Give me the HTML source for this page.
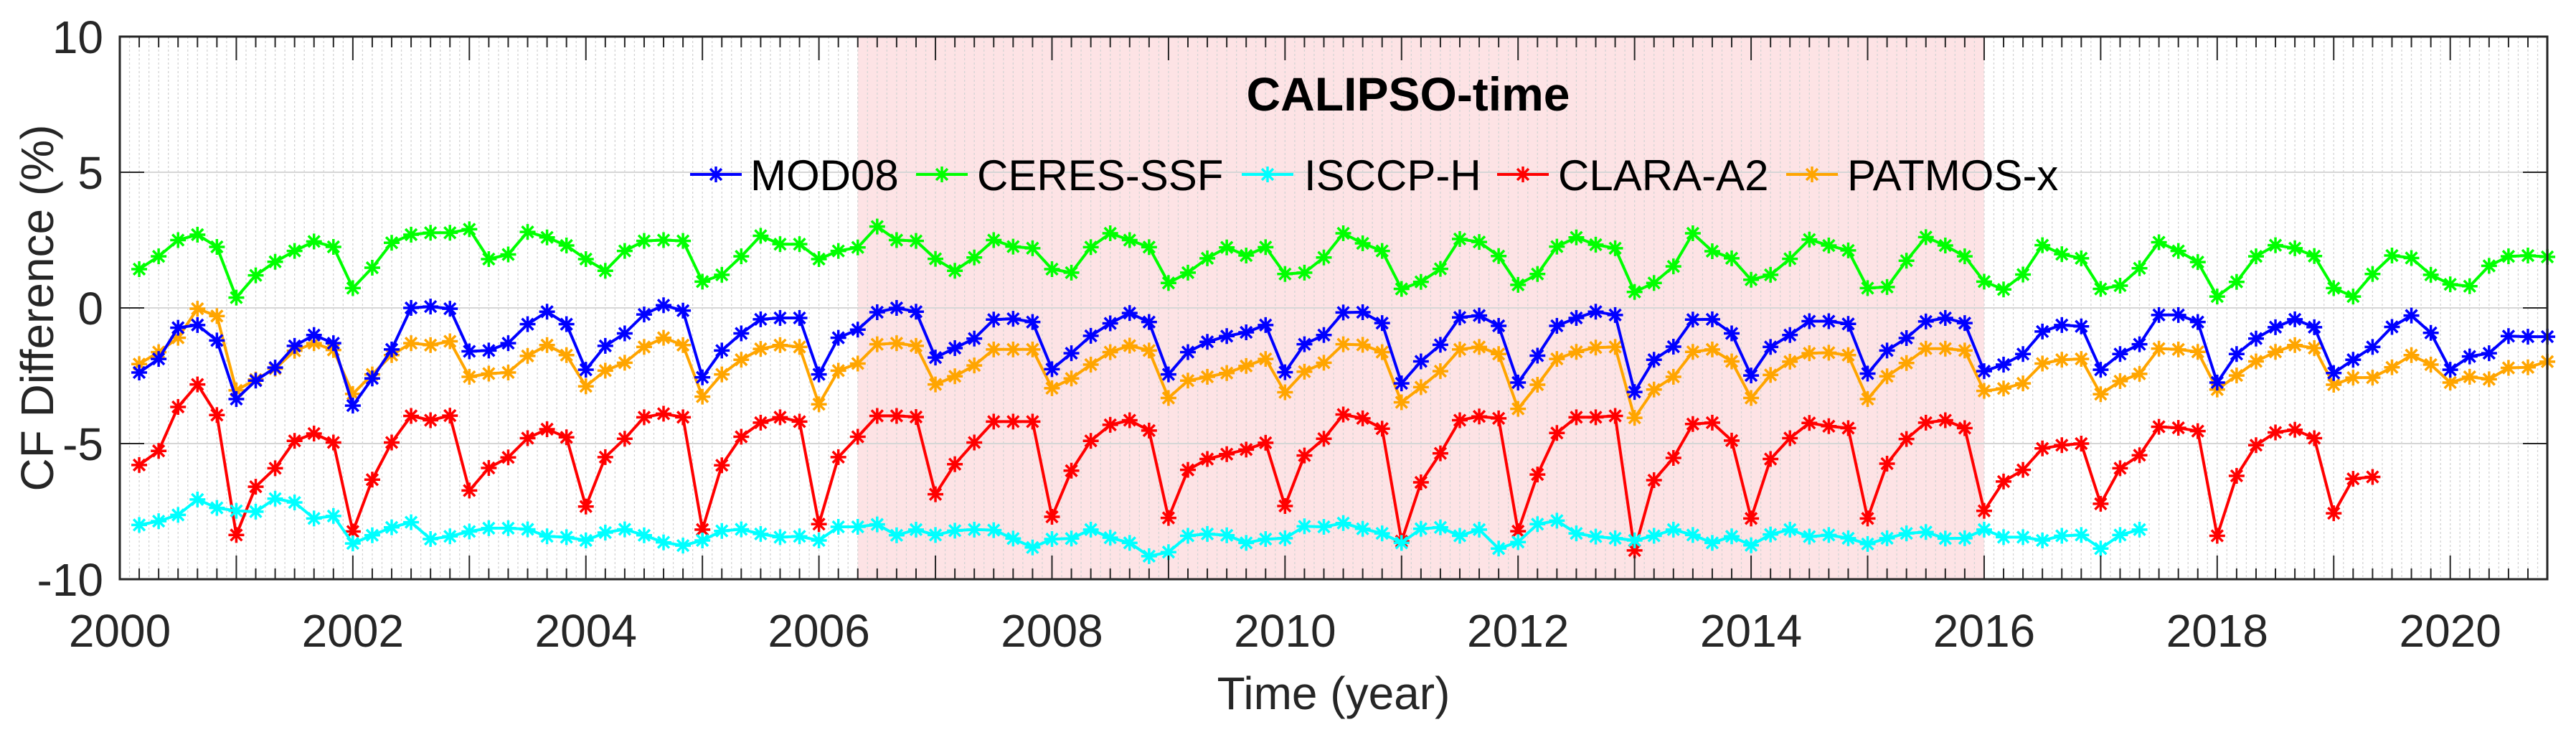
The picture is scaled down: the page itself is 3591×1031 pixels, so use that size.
<!DOCTYPE html>
<html><head><meta charset="utf-8"><style>
html,body{margin:0;padding:0;background:#fff;}
svg{display:block;font-family:"Liberation Sans",Arial,sans-serif;}
</style></head><body>
<svg id="chart" width="3591" height="1031" viewBox="0 0 3591 1031" xmlns="http://www.w3.org/2000/svg">
<g id="bg"></g>
<g id="grid"></g>
<g id="series"></g>
<g id="axes"></g>
<text x="1963" y="154" text-anchor="middle" font-size="66" font-weight="bold" fill="#000">CALIPSO-time</text>
<text transform="translate(74,429) rotate(-90)" text-anchor="middle" font-size="64" fill="#262626">CF Difference (%)</text>
<text x="1859" y="988" text-anchor="middle" font-size="64" fill="#262626">Time (year)</text>
<g id="legend"></g>
</svg>
<script>
const categoriesStart = 2000;
const seriesNames = ["MOD08","CERES-SSF","ISCCP-H","CLARA-A2","PATMOS-x"];
const mod08 = [-2.38,-1.88,-0.73,-0.63,-1.2,-3.36,-2.68,-2.2,-1.4,-1.0,-1.3,-3.6,-2.6,-1.53,0.0,0.05,-0.03,-1.6,-1.57,-1.3,-0.6,-0.14,-0.6,-2.28,-1.4,-0.94,-0.24,0.1,-0.1,-2.56,-1.57,-0.94,-0.42,-0.37,-0.37,-2.45,-1.1,-0.8,-0.16,0,-0.14,
-1.83,-1.48,-1.13,-0.43,-0.4,-0.52,-2.26,-1.67,-1.03,-0.57,-0.19,-0.52,-2.45,-1.63,-1.25,-1.04,-0.9,-0.63,-2.37,-1.34,-1.0,-0.17,-0.16,-0.56,-2.78,-1.97,-1.36,-0.35,-0.28,-0.66,-2.75,-1.76,-0.66,-0.37,-0.14,-0.26,-3.1,-1.91,-1.43,-0.43,-0.42,-0.94,-2.49,-1.44,-1.0,
-0.49,-0.49,-0.59,-2.42,-1.57,-1.11,-0.5,-0.37,-0.56,-2.33,-2.09,-1.7,-0.87,-0.63,-0.68,-2.28,-1.7,-1.34,-0.26,-0.26,-0.52,-2.75,-1.7,-1.13,-0.71,-0.42,-0.71,-2.4,-1.91,-1.44,-0.7,-0.28,-0.92,-2.28,-1.79,-1.67,-1.04,-1.06,-1.06];
const ceres = [1.43,1.9,2.5,2.7,2.25,0.38,1.2,1.7,2.1,2.45,2.25,0.73,1.48,2.4,2.7,2.77,2.77,2.9,1.8,1.97,2.8,2.6,2.3,1.8,1.37,2.1,2.47,2.5,2.47,0.97,1.22,1.9,2.66,2.35,2.35,1.8,2.1,2.23,3.0,2.5,2.47,
1.81,1.37,1.86,2.5,2.26,2.2,1.43,1.3,2.24,2.75,2.5,2.24,0.92,1.3,1.83,2.23,1.93,2.24,1.25,1.3,1.86,2.75,2.38,2.1,0.7,0.96,1.44,2.54,2.43,1.91,0.85,1.25,2.26,2.6,2.33,2.2,0.59,0.92,1.53,2.75,2.09,1.83,1.04,1.22,1.81,
2.52,2.3,2.12,0.73,0.77,1.74,2.61,2.3,1.9,0.97,0.68,1.23,2.31,1.98,1.83,0.7,0.82,1.46,2.42,2.1,1.69,0.42,0.96,1.9,2.31,2.2,1.91,0.73,0.42,1.25,1.93,1.84,1.22,0.87,0.8,1.55,1.9,1.93,1.88];
const isccp = [-8.0,-7.86,-7.63,-7.06,-7.37,-7.48,-7.51,-7.03,-7.17,-7.76,-7.67,-8.68,-8.38,-8.09,-7.9,-8.52,-8.42,-8.24,-8.12,-8.12,-8.16,-8.42,-8.45,-8.57,-8.28,-8.16,-8.38,-8.64,-8.76,-8.57,-8.22,-8.16,-8.33,-8.45,-8.42,-8.57,-8.07,-8.07,-7.98,-8.38,-8.17,
-8.37,-8.21,-8.17,-8.19,-8.5,-8.83,-8.52,-8.5,-8.17,-8.47,-8.66,-9.15,-9.0,-8.4,-8.33,-8.38,-8.66,-8.52,-8.49,-8.05,-8.07,-7.93,-8.14,-8.31,-8.66,-8.14,-8.09,-8.4,-8.17,-8.87,-8.63,-7.97,-7.84,-8.31,-8.43,-8.49,-8.57,-8.4,-8.17,-8.37,-8.66,-8.42,-8.75,-8.35,-8.17,
-8.43,-8.37,-8.49,-8.7,-8.49,-8.31,-8.26,-8.5,-8.49,-8.17,-8.45,-8.45,-8.57,-8.4,-8.37,-8.87,-8.37,-8.17];
const clara = [-5.79,-5.27,-3.65,-2.82,-3.95,-8.37,-6.59,-5.91,-4.9,-4.63,-4.96,-8.24,-6.33,-4.96,-3.98,-4.14,-3.97,-6.73,-5.9,-5.51,-4.8,-4.47,-4.77,-7.32,-5.5,-4.82,-4.03,-3.9,-4.03,-8.17,-5.8,-4.75,-4.23,-4.03,-4.19,-7.97,-5.5,-4.75,-3.98,-3.98,-4.02,
-6.87,-5.76,-4.96,-4.19,-4.19,-4.19,-7.7,-6.0,-4.9,-4.31,-4.14,-4.52,-7.74,-5.97,-5.57,-5.39,-5.22,-4.97,-7.3,-5.44,-4.82,-3.93,-4.07,-4.45,-8.6,-6.43,-5.36,-4.14,-4.0,-4.07,-8.23,-6.14,-4.61,-4.03,-4.03,-3.98,-8.94,-6.35,-5.53,-4.28,-4.23,-4.89,-7.76,-5.57,-4.8,
-4.24,-4.36,-4.43,-7.76,-5.74,-4.83,-4.23,-4.14,-4.43,-7.48,-6.4,-5.97,-5.18,-5.06,-5.0,-7.22,-5.91,-5.43,-4.38,-4.42,-4.54,-8.4,-6.19,-5.06,-4.59,-4.49,-4.8,-7.57,-6.3,-6.23];
const patmos = [-2.07,-1.63,-1.1,-0.03,-0.3,-3.04,-2.64,-2.24,-1.58,-1.3,-1.55,-3.17,-2.45,-1.74,-1.3,-1.37,-1.23,-2.54,-2.42,-2.38,-1.77,-1.37,-1.74,-2.89,-2.31,-2.02,-1.44,-1.1,-1.37,-3.27,-2.45,-1.91,-1.51,-1.37,-1.44,-3.55,-2.31,-2.05,-1.34,-1.3,-1.4,
-2.82,-2.52,-2.12,-1.53,-1.53,-1.53,-2.96,-2.6,-2.09,-1.63,-1.39,-1.57,-3.32,-2.68,-2.54,-2.4,-2.14,-1.88,-3.11,-2.35,-2.02,-1.34,-1.36,-1.63,-3.48,-2.92,-2.33,-1.53,-1.44,-1.7,-3.72,-2.83,-1.88,-1.62,-1.46,-1.44,-4.05,-3.01,-2.54,-1.62,-1.53,-1.97,-3.32,-2.47,-1.98,
-1.67,-1.65,-1.74,-3.36,-2.52,-2.03,-1.5,-1.5,-1.57,-3.06,-2.97,-2.78,-2.05,-1.91,-1.88,-3.18,-2.7,-2.43,-1.5,-1.53,-1.62,-3.01,-2.49,-1.97,-1.62,-1.37,-1.48,-2.83,-2.57,-2.57,-2.19,-1.74,-2.09,-2.75,-2.54,-2.63,-2.21,-2.19,-1.98];
const xTickLabels = ["2000","2002","2004","2006","2008","2010","2012","2014","2016","2018","2020"];
const yTickLabels = ["-10","-5","0","5","10"];
const shadeRange = [2006.333, 2016.0];

const NS="http://www.w3.org/2000/svg";
const L=167,R=3551,T=51,B=807,X0=2000,X1=2020.833,Y0=-10,Y1=10;
function sx(v){return L+(v-X0)/(X1-X0)*(R-L);}
function sy(v){return B-(v-Y0)/(Y1-Y0)*(B-T);}
function mk(tag,attrs,parent){const e=document.createElementNS(NS,tag);for(const k in attrs)e.setAttribute(k,attrs[k]);parent.appendChild(e);return e;}
const bg=document.getElementById('bg'),grid=document.getElementById('grid'),ser=document.getElementById('series'),axes=document.getElementById('axes'),leg=document.getElementById('legend');

const shade=mk('rect',{x:sx(shadeRange[0]),y:T,width:sx(shadeRange[1])-sx(shadeRange[0]),height:B-T,fill:'#fde3e5'},bg);



for(let m=1;m<250;m++){const v=X0+m/12;if(v>=X1)break;
  mk('line',{x1:sx(v),x2:sx(v),y1:T,y2:B,stroke:'#d4d4d4','stroke-width':1.3,'stroke-dasharray':'3,3'},grid);}
[-5,0,5].forEach(v=>{mk('line',{x1:L,x2:R,y1:sy(v),y2:sy(v),stroke:'#d6d6d6','stroke-width':2},grid);});

for(let m=0;m<=250;m+=2){const v=X0+m/12;if(v>X1+1e-6)break;const len=(m%12===0)?33:15;
  mk('line',{x1:sx(v),x2:sx(v),y1:B,y2:B-len,stroke:'#262626','stroke-width':2},axes);
  mk('line',{x1:sx(v),x2:sx(v),y1:T,y2:T+len,stroke:'#262626','stroke-width':2},axes);}
yTickLabels.forEach(t=>{const v=parseFloat(t);
  mk('line',{x1:L,x2:L+34,y1:sy(v),y2:sy(v),stroke:'#262626','stroke-width':2},axes);
  mk('line',{x1:R,x2:R-34,y1:sy(v),y2:sy(v),stroke:'#262626','stroke-width':2},axes);
  const tx=mk('text',{x:144,y:sy(v)+23,'text-anchor':'end','font-size':64,fill:'#262626'},axes);tx.textContent=t;
  
  });
xTickLabels.forEach(t=>{const v=parseFloat(t);
  const tx=mk('text',{x:sx(v),y:901,'text-anchor':'middle','font-size':64,fill:'#262626'},axes);tx.textContent=t;
  
  });
mk('rect',{x:L,y:T,width:R-L,height:B-T,fill:'none',stroke:'#262626','stroke-width':3},axes);

function star(g,cx,cy,col){const r=11,d=r*0.72;
  mk('path',{d:`M${cx-r},${cy}H${cx+r}M${cx},${cy-r}V${cy+r}M${cx-d},${cy-d}L${cx+d},${cy+d}M${cx-d},${cy+d}L${cx+d},${cy-d}`,stroke:col,'stroke-width':3.5,fill:'none'},g);}
const colors=['#0000ff','#00ff00','#00ffff','#ff0000','#ffa500'];
const datasets=[mod08,ceres,isccp,clara,patmos];
const order=[1,4,0,3,2];
const names=['mod08-series','ceres-ssf-series','isccp-h-series','clara-a2-series','patmos-x-series'];
order.forEach(i=>{const data=datasets[i];const g=mk('g',{},ser);
  
  
  let d='';data.forEach((v,k)=>{if(v==null)return;const x=sx(categoriesStart+(k+1)/6),y=sy(v);d+=(d?'L':'M')+x.toFixed(1)+','+y.toFixed(1);});
  mk('path',{d:d,stroke:colors[i],'stroke-width':4,fill:'none','stroke-linejoin':'round'},g);
  data.forEach((v,k)=>{if(v==null)return;star(g,sx(categoriesStart+(k+1)/6),sy(v),colors[i]);});});

const legX=[[962,1046],[1277,1362],[1731,1818],[2087,2172],[2490,2575]];
seriesNames.forEach((n,i)=>{const g=mk('g',{},leg);
  
  
  const y=243;mk('line',{x1:legX[i][0],x2:legX[i][0]+72,y1:y,y2:y,stroke:colors[i],'stroke-width':4},g);
  star(g,legX[i][0]+36,y,colors[i]);
  const t=mk('text',{x:legX[i][1],y:y+22,'font-size':60,fill:'#000'},g);t.textContent=n;});
</script>
</body></html>
